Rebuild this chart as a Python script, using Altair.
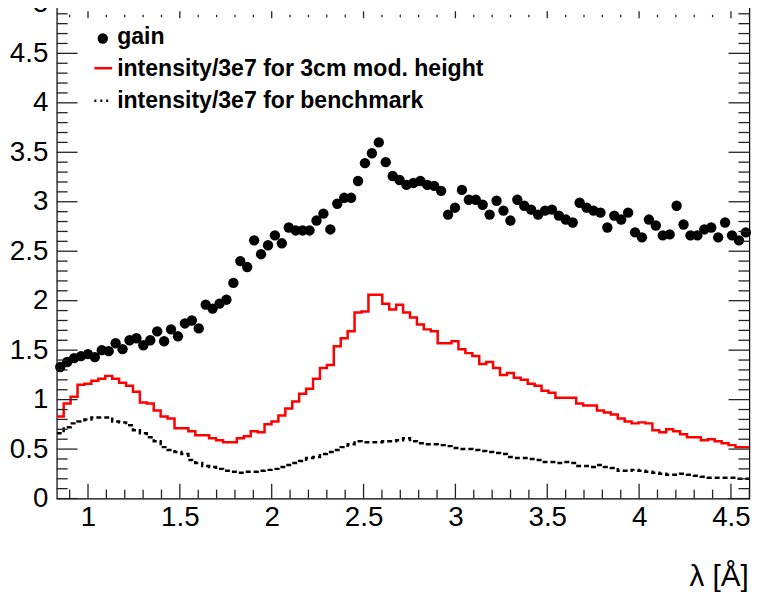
import altair as alt
import numpy as np
import pandas as pd

# ---------------- data ----------------
LAMBDA_MIN = 0.83
LAMBDA_MAX = 4.60
N_BINS = 100

gain = [
    1.33, 1.38, 1.42, 1.44, 1.46, 1.43, 1.50, 1.49, 1.57, 1.51,
    1.60, 1.62, 1.55, 1.60, 1.69, 1.59, 1.71, 1.64, 1.77, 1.80,
    1.72, 1.96, 1.92, 1.97, 2.01, 2.18, 2.40, 2.34, 2.61, 2.47,
    2.56, 2.66, 2.58, 2.74, 2.71, 2.71, 2.71, 2.81, 2.88, 2.72,
    2.98, 3.04, 3.04, 3.21, 3.39, 3.49, 3.60, 3.40, 3.26, 3.22,
    3.17, 3.19, 3.21, 3.17, 3.16, 3.11, 2.87, 2.94, 3.12, 3.02,
    3.02, 2.97, 2.87, 3.01, 2.91, 2.81, 3.02, 2.96, 2.92, 2.87,
    2.91, 2.92, 2.86, 2.82, 2.79, 2.99, 2.94, 2.91, 2.89, 2.74,
    2.86, 2.82, 2.89, 2.69, 2.64, 2.82, 2.76, 2.66, 2.67, 2.96,
    2.77, 2.66, 2.66, 2.72, 2.74, 2.64, 2.79, 2.66, 2.61, 2.69,
]

intensity_3cm = [
    0.83, 0.96, 1.03, 1.15, 1.16, 1.19, 1.21, 1.24, 1.21, 1.17,
    1.14, 1.08, 0.97, 0.96, 0.89, 0.83, 0.81, 0.71, 0.71, 0.68,
    0.64, 0.64, 0.61, 0.59, 0.57, 0.57, 0.61, 0.63, 0.68, 0.67,
    0.75, 0.78, 0.84, 0.91, 0.98, 1.06, 1.11, 1.21, 1.32, 1.35,
    1.54, 1.62, 1.69, 1.88, 1.89, 2.06, 2.06, 1.97, 1.91, 1.96,
    1.88, 1.83, 1.76, 1.71, 1.69, 1.57, 1.57, 1.59, 1.51, 1.47,
    1.44, 1.36, 1.38, 1.32, 1.25, 1.27, 1.22, 1.20, 1.16, 1.14,
    1.09, 1.07, 1.02, 1.02, 1.02, 0.96, 0.94, 0.94, 0.89, 0.87,
    0.85, 0.81, 0.78, 0.76, 0.77, 0.76, 0.69, 0.67, 0.70, 0.68,
    0.65, 0.62, 0.62, 0.59, 0.60, 0.58, 0.56, 0.54, 0.52, 0.52,
]

intensity_bench = [
    0.66, 0.72, 0.76, 0.78, 0.80, 0.82, 0.82, 0.82, 0.78, 0.77,
    0.74, 0.69, 0.66, 0.62, 0.58, 0.52, 0.49, 0.47, 0.45, 0.39,
    0.36, 0.33, 0.32, 0.30, 0.28, 0.27, 0.26, 0.27, 0.27, 0.28,
    0.29, 0.30, 0.32, 0.34, 0.36, 0.38, 0.41, 0.42, 0.45, 0.47,
    0.49, 0.52, 0.55, 0.58, 0.57, 0.57, 0.57, 0.58, 0.58, 0.59,
    0.61, 0.58, 0.56, 0.55, 0.55, 0.54, 0.53, 0.51, 0.50, 0.50,
    0.49, 0.48, 0.47, 0.46, 0.45, 0.42, 0.41, 0.41, 0.40, 0.39,
    0.37, 0.37, 0.36, 0.37, 0.36, 0.33, 0.33, 0.32, 0.34, 0.32,
    0.31, 0.28, 0.28, 0.29, 0.28, 0.27, 0.26, 0.25, 0.24, 0.24,
    0.25, 0.24, 0.23, 0.22, 0.21, 0.21, 0.21, 0.21, 0.20, 0.20,
]

legend_labels = ["gain", "intensity/3e7 for 3cm mod. height", "intensity/3e7 for benchmark"]

x_major_ticks = [1.0, 1.5, 2.0, 2.5, 3.0, 3.5, 4.0, 4.5]
x_minor_ticks = [0.9, 1.1, 1.2, 1.3, 1.4, 1.6, 1.7, 1.8, 1.9, 2.1, 2.2, 2.3, 2.4,
                 2.6, 2.7, 2.8, 2.9, 3.1, 3.2, 3.3, 3.4, 3.6, 3.7, 3.8, 3.9,
                 4.1, 4.2, 4.3, 4.4, 4.6]
y_major_ticks = [0, 0.5, 1, 1.5, 2, 2.5, 3, 3.5, 4, 4.5, 5]
y_minor_ticks = [round(0.1 * i, 1) for i in range(51) if i % 5 != 0]

# ---------------- tables ----------------
edges = np.linspace(LAMBDA_MIN, LAMBDA_MAX, N_BINS + 1)
centers = 0.5 * (edges[:-1] + edges[1:])

df_gain = pd.DataFrame({"lam": centers, "val": gain})
df_red = pd.DataFrame({"lam": edges, "val": intensity_3cm + [intensity_3cm[-1]]})
df_bench = pd.DataFrame({"lam": edges, "val": intensity_bench + [intensity_bench[-1]]})

W, H = 700, 500
FONT = "Liberation Sans"

xscale = alt.Scale(domain=[LAMBDA_MIN, LAMBDA_MAX], nice=False, zero=False)
yscale = alt.Scale(domain=[0, 5], nice=False, zero=True)

xaxis = alt.Axis(
    values=x_major_ticks, ticks=False, domain=False, grid=False,
    labelExpr="toString(datum.value)", labelFont=FONT, labelFontSize=28,
    labelColor="black", labelPadding=5, labelFlush=False,
    title="λ [Å]", titleFont=FONT, titleFontSize=30, titleFontWeight="normal",
    titleColor="black", titleAnchor="end", titleAlign="right",
    titleX=W - 1, titleY=88, titleBaseline="alphabetic",
)
yaxis = alt.Axis(
    values=y_major_ticks, ticks=False, domain=False, grid=False,
    labelExpr="toString(datum.value)", labelFont=FONT, labelFontSize=28,
    labelColor="black", labelPadding=9, labelFlush=False,
    title="",
)


def X(field):
    return alt.X(f"{field}:Q", scale=xscale, axis=xaxis)


def Y(field):
    return alt.Y(f"{field}:Q", scale=yscale, axis=yaxis)


points = alt.Chart(df_gain).mark_circle(size=110, color="black", opacity=1).encode(
    x=X("lam"), y=Y("val")
)
red = alt.Chart(df_red).mark_line(
    interpolate="step-after", color="#ff0000", strokeWidth=2.5, clip=True
).encode(x=X("lam"), y=Y("val"))
bench = alt.Chart(df_bench).mark_line(
    interpolate="step-after", color="black", strokeWidth=2.5, strokeDash=[5, 3], clip=True
).encode(x=X("lam"), y=Y("val"))

# ---- inward ticks (ROOT style) ----
dxM = pd.DataFrame({"t": x_major_ticks})
dxm = pd.DataFrame({"t": x_minor_ticks})
dyM = pd.DataFrame({"t": y_major_ticks})
dym = pd.DataFrame({"t": y_minor_ticks})
tick_color = "#222222"

ticks = [
    alt.Chart(dxM).mark_rule(color=tick_color, strokeWidth=1.3).encode(x=X("t"), y=alt.value(H), y2=alt.value(H - 15)),
    alt.Chart(dxm).mark_rule(color=tick_color, strokeWidth=1.3).encode(x=X("t"), y=alt.value(H), y2=alt.value(H - 9)),
    alt.Chart(dxM).mark_rule(color=tick_color, strokeWidth=1.3).encode(x=X("t"), y=alt.value(7.5), y2=alt.value(14.5)),
    alt.Chart(dxm).mark_rule(color=tick_color, strokeWidth=1.3).encode(x=X("t"), y=alt.value(11), y2=alt.value(13.5)),
    alt.Chart(dyM).mark_rule(color=tick_color, strokeWidth=1.3).encode(y=Y("t"), x=alt.value(0), x2=alt.value(21)),
    alt.Chart(dym).mark_rule(color=tick_color, strokeWidth=1.3).encode(y=Y("t"), x=alt.value(0), x2=alt.value(11)),
    alt.Chart(dyM).mark_rule(color=tick_color, strokeWidth=1.3).encode(y=Y("t"), x=alt.value(W), x2=alt.value(W - 21)),
    alt.Chart(dym).mark_rule(color=tick_color, strokeWidth=1.3).encode(y=Y("t"), x=alt.value(W), x2=alt.value(W - 11)),
]

# ---- legend ----
one = pd.DataFrame({"k": [0]})
leg_x_text = 61
leg = [
    alt.Chart(one).mark_circle(size=110, color="black", opacity=1).encode(x=alt.value(46.5), y=alt.value(35)),
    alt.Chart(one).mark_rule(color="#ff0000", strokeWidth=2.5).encode(x=alt.value(38), x2=alt.value(56), y=alt.value(65)),
    alt.Chart(one).mark_rule(color="black", strokeWidth=2.5, strokeDash=[2, 4]).encode(x=alt.value(38), x2=alt.value(56), y=alt.value(98)),
]
for lbl, yb in zip(legend_labels, [41, 73, 105]):
    leg.append(
        alt.Chart(one).mark_text(
            align="left", baseline="alphabetic", font=FONT, fontSize=23.3,
            fontWeight="bold", color="black"
        ).encode(x=alt.value(leg_x_text), y=alt.value(yb), text=alt.value(lbl))
    )

chart = alt.layer(bench, red, points, *ticks, *leg).properties(
    width=W, height=H,
    autosize=alt.AutoSizeParams(type="none"),
    padding={"left": 49.3, "top": -7.3, "right": 2.7, "bottom": 92},
    background="white",
).configure_view(stroke="black", strokeWidth=1.2)

chart.save("out.html", embed_options={"renderer": "svg", "actions": False})
